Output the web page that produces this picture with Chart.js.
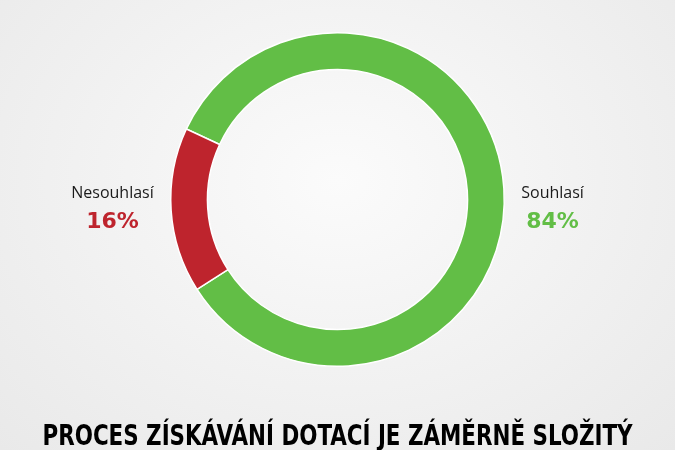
<!DOCTYPE html>
<html>
<head>
<meta charset="utf-8">
<script src="https://cdn.jsdelivr.net/npm/chart.js@4.4.0/dist/chart.umd.min.js"></script>
<style>
  html, body { margin: 0; padding: 0; }
  body {
    width: 675px; height: 450px; overflow: hidden;
    background: radial-gradient(ellipse at 50% 40%, #fbfbfb 0%, #f1f1f1 55%, #e9e9e9 100%);
  }
  #wrap { width: 675px; height: 450px; }
</style>
</head>
<body>
<div id="wrap"><canvas id="graf"></canvas></div>
<script>
const kategorie = ['Souhlasí', 'Nesouhlasí'];
const hodnoty = [84, 16];
const barvy = ['#62be46', '#be242d'];
const nadpis = 'PROCES ZÍSKÁVÁNÍ DOTACÍ JE ZÁMĚRNĚ SLOŽITÝ';

// popisky vlevo a vpravo od prstence + nadpis dole
const popisky = {
    id: 'popisky',
    afterDatasetsDraw(chart) {
        const ctx = chart.ctx;
        const meta = chart.getDatasetMeta(0);
        const arc = meta.data[0];
        const cx = arc.x, cy = arc.y, r = arc.outerRadius;
        const mezera = 17;
        const strany = [
            { i: 1, smer: -1 },
            { i: 0, smer: 1 }
        ];
        ctx.save();
        ctx.textAlign = 'center';
        ctx.textBaseline = 'alphabetic';
        strany.forEach(s => {
            ctx.font = '16px "Open Sans"';
            const sirka = ctx.measureText(kategorie[s.i]).width;
            const x = cx + s.smer * (r + mezera + sirka / 2);
            ctx.fillStyle = '#1a1a1a';
            ctx.fillText(kategorie[s.i], x, cy - 2);
            ctx.font = 'bold 22px "DejaVu Sans"';
            ctx.fillStyle = barvy[s.i];
            ctx.fillText(hodnoty[s.i] + '%', x, cy + 28);
        });

        // nadpis - zuzene pismo
        ctx.font = 'bold 28px "Liberation Sans Narrow", "DejaVu Sans Condensed"';
        const w = ctx.measureText(nadpis).width;
        const cil = 590;
        ctx.translate(chart.width / 2, 445);
        ctx.scale(cil / w, 1);
        ctx.fillStyle = '#000';
        ctx.fillText(nadpis, 0, 0);
        ctx.restore();
    }
};

new Chart(document.getElementById('graf'), {
    type: 'doughnut',
    data: {
        labels: kategorie,
        datasets: [{
            data: hodnoty,
            backgroundColor: barvy,
            borderColor: '#ffffff',
            borderWidth: 1.5
        }]
    },
    options: {
        responsive: true,
        maintainAspectRatio: false,
        animation: false,
        cutout: '78%',
        rotation: -65,
        layout: { padding: { top: 32, bottom: 83 } },
        plugins: {
            legend: { display: false },
            tooltip: { enabled: false },
            title: { display: false }
        }
    },
    plugins: [popisky]
});
</script>
</body>
</html>
